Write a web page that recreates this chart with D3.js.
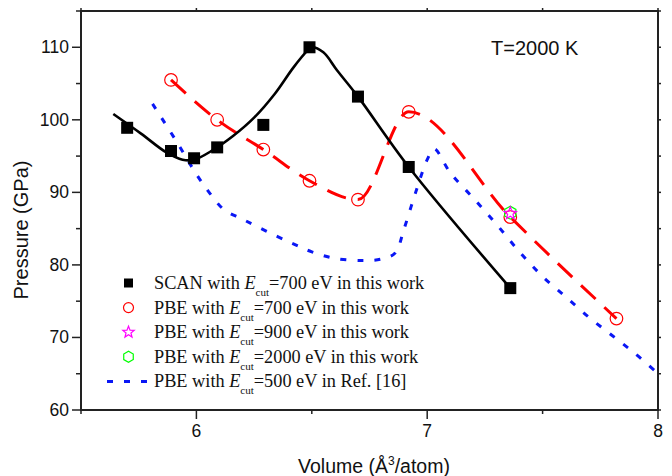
<!DOCTYPE html>
<html>
<head>
<meta charset="utf-8">
<script src="https://cdn.jsdelivr.net/npm/d3@7"></script>
<style>
  body { margin: 0; background: #fff; }
  svg { display: block; }
</style>
</head>
<body>
<div id="chart"></div>
<script>
// SCAN, E_cut = 700 eV (squares)
const scanVol = [5.70, 5.89, 5.99, 6.09, 6.29, 6.49, 6.70, 6.92, 7.36];
const scanP   = [98.9, 95.7, 94.7, 96.2, 99.3, 110.0, 103.2, 93.5, 76.8];
// fitted curve drawn through the SCAN points
const scanFitVol = [5.64, 5.76, 5.87, 5.94, 5.99, 6.07, 6.16, 6.25, 6.34, 6.42, 6.48, 6.50, 6.55, 6.61, 6.70, 6.92, 7.36];
const scanFitP   = [100.8, 98.1, 95.5, 94.5, 94.5, 95.8, 97.8, 100.3, 103.6, 107.2, 109.5, 110.0, 109.3, 106.8, 103.2, 93.5, 76.8];

// PBE, E_cut = 700 eV (circles)
const pbeVol = [5.89, 6.09, 6.29, 6.49, 6.70, 6.92, 7.36, 7.82];
const pbeP   = [105.5, 100.0, 95.9, 91.6, 89.0, 101.1, 86.6, 72.6];

// PBE, 900 eV and 2000 eV (single points)
const pbe900 = [7.36, 87.1];
const pbe2000 = [7.36, 87.2];

// PBE, E_cut = 500 eV, Ref. [16]
const refVol = [5.81, 5.92, 6.00, 6.06, 6.12, 6.20, 6.30, 6.42, 6.50, 6.60, 6.72, 6.80, 6.86, 6.90, 6.95, 7.00, 7.03, 7.10, 7.20, 7.30, 7.40, 7.50, 7.60, 7.70, 7.80, 7.90, 8.00];
const refP   = [102.2, 96.7, 92.5, 89.8, 87.6, 86.3, 84.7, 82.9, 81.8, 80.9, 80.6, 80.8, 81.6, 85.0, 90.0, 94.5, 96.0, 92.7, 89.2, 85.6, 81.8, 78.4, 75.6, 72.8, 70.3, 67.8, 65.0];

const xTicks = [6, 7, 8];
const yTicks = [60, 70, 80, 90, 100, 110];

const legendItems = [
  { pre: "SCAN with ", post: "=700 eV in this work", kind: "square" },
  { pre: "PBE with ", post: "=700 eV in this work", kind: "circle" },
  { pre: "PBE with ", post: "=900 eV in this work", kind: "star" },
  { pre: "PBE with ", post: "=2000 eV in this work", kind: "hex" },
  { pre: "PBE with ", post: "=500 eV in Ref. [16]", kind: "dash" }
];

const width = 672, height = 476;
const margin = { top: 11, right: 14, bottom: 66, left: 81 };

const svg = d3.select("#chart").append("svg")
  .attr("width", width)
  .attr("height", height);

const x = d3.scaleLinear().domain([5.5, 8]).range([margin.left, width - margin.right]);
const y = d3.scaleLinear().domain([60, 115]).range([height - margin.bottom, margin.top]);

const x0 = margin.left, x1 = width - margin.right;
const y0 = height - margin.bottom, y1 = margin.top;

// clip so the Ref. curve stops at the frame
svg.append("clipPath").attr("id", "plotclip")
  .append("rect").attr("x", x0).attr("y", y1).attr("width", x1 - x0).attr("height", y0 - y1);

const plot = svg.append("g").attr("clip-path", "url(#plotclip)");

const line = d3.line().x(d => x(d[0])).y(d => y(d[1]));

// Ref. [16] blue dotted
plot.append("path")
  .datum(d3.zip(refVol, refP))
  .attr("fill", "none")
  .attr("stroke", "#0a17f5")
  .attr("stroke-width", 3)
  .attr("stroke-dasharray", "6,11")
  .attr("d", line.curve(d3.curveCatmullRom.alpha(0.5)));

// PBE red dashed
plot.append("path")
  .datum(d3.zip(pbeVol, pbeP))
  .attr("fill", "none")
  .attr("stroke", "#f00")
  .attr("stroke-width", 3)
  .attr("stroke-dasharray", "20,12")
  .attr("d", line.curve(d3.curveMonotoneX));

// SCAN black curve
plot.append("path")
  .datum(d3.zip(scanFitVol, scanFitP))
  .attr("fill", "none")
  .attr("stroke", "#000")
  .attr("stroke-width", 2.6)
  .attr("d", line.curve(d3.curveCatmullRom.alpha(0.5)));

// markers
svg.append("g").selectAll("rect")
  .data(d3.zip(scanVol, scanP))
  .join("rect")
  .attr("x", d => x(d[0]) - 6)
  .attr("y", d => y(d[1]) - 6)
  .attr("width", 12)
  .attr("height", 12)
  .attr("fill", "#000");

svg.append("g").selectAll("circle")
  .data(d3.zip(pbeVol, pbeP))
  .join("circle")
  .attr("cx", d => x(d[0]))
  .attr("cy", d => y(d[1]))
  .attr("r", 6.3)
  .attr("fill", "none")
  .attr("stroke", "#f00")
  .attr("stroke-width", 1.2);

const hexPath = r => d3.range(6).map(i => {
  const a = Math.PI / 6 + i * Math.PI / 3;
  return [r * Math.cos(a), r * Math.sin(a)];
});
const starPath = (ro, ri) => d3.range(10).map(i => {
  const a = -Math.PI / 2 + i * Math.PI / 5;
  const r = i % 2 ? ri : ro;
  return [r * Math.cos(a), r * Math.sin(a)];
});
const poly = pts => "M" + pts.map(p => p.join(",")).join("L") + "Z";

svg.append("path")
  .attr("transform", `translate(${x(pbe2000[0])},${y(pbe2000[1])})`)
  .attr("d", poly(hexPath(6.5)))
  .attr("fill", "none").attr("stroke", "#0f0").attr("stroke-width", 1.2);
svg.append("path")
  .attr("transform", `translate(${x(pbe900[0])},${y(pbe900[1])})`)
  .attr("d", poly(starPath(6.5, 2.8)))
  .attr("fill", "none").attr("stroke", "#f0f").attr("stroke-width", 1.2);

// frame and axes
const axisColor = "#222";
svg.append("rect")
  .attr("x", x0).attr("y", y1)
  .attr("width", x1 - x0).attr("height", y0 - y1)
  .attr("fill", "none").attr("stroke", axisColor).attr("stroke-width", 2);

const xMinor = d3.range(5.5, 8.01, 0.5);
const yMinor = d3.range(60, 115.01, 5);

const ticks = svg.append("g").attr("stroke", axisColor).attr("stroke-width", 1.5);
// bottom
ticks.selectAll(".xb").data(xMinor).join("line")
  .attr("x1", d => x(d)).attr("x2", d => x(d))
  .attr("y1", y0).attr("y2", d => y0 + (Number.isInteger(d) ? 9 : 4));
// top
ticks.selectAll(".xt").data(xMinor).join("line")
  .attr("x1", d => x(d)).attr("x2", d => x(d))
  .attr("y1", y1).attr("y2", y1 - 3);
// left
ticks.selectAll(".yl").data(yMinor).join("line")
  .attr("y1", d => y(d)).attr("y2", d => y(d))
  .attr("x1", x0).attr("x2", d => x0 - (d % 10 === 0 ? 9 : 5));
// right
ticks.selectAll(".yr").data(yMinor).join("line")
  .attr("y1", d => y(d)).attr("y2", d => y(d))
  .attr("x1", x1).attr("x2", x1 + 3);

const sans = "'Liberation Sans', Arial, sans-serif";
const serif = "'Liberation Serif', 'Times New Roman', serif";

svg.append("g").selectAll("text")
  .data(xTicks)
  .join("text")
  .attr("x", d => x(d))
  .attr("y", y0 + 27)
  .attr("text-anchor", "middle")
  .attr("font-family", sans)
  .attr("font-size", 17.5)
  .attr("fill", "#111")
  .text(d => d);

svg.append("g").selectAll("text")
  .data(yTicks)
  .join("text")
  .attr("x", x0 - 12)
  .attr("y", d => y(d) + 6)
  .attr("text-anchor", "end")
  .attr("font-family", sans)
  .attr("font-size", 17.5)
  .attr("fill", "#111")
  .text(d => d);

// axis titles
const xt = svg.append("text")
  .attr("x", 374)
  .attr("y", 473)
  .attr("text-anchor", "middle")
  .attr("font-family", sans)
  .attr("font-size", 19.5)
  .attr("fill", "#111");
xt.append("tspan").text("Volume (Å");
xt.append("tspan").attr("font-size", 12).attr("dy", -8).text("3");
xt.append("tspan").attr("dy", 8).text("/atom)");

svg.append("text")
  .attr("transform", `translate(28,230) rotate(-90)`)
  .attr("text-anchor", "middle")
  .attr("font-family", sans)
  .attr("font-size", 20)
  .attr("fill", "#111")
  .text("Pressure (GPa)");

svg.append("text")
  .attr("x", 491)
  .attr("y", 55)
  .attr("font-family", sans)
  .attr("font-size", 20)
  .attr("fill", "#111")
  .text("T=2000 K");

// legend
const legend = svg.append("g");
const rowY = i => 283 + i * 24.6;
legendItems.forEach((item, i) => {
  const cy = rowY(i);
  const g = legend.append("g");
  if (item.kind === "square") {
    g.append("rect").attr("x", 124).attr("y", cy - 4.5).attr("width", 9).attr("height", 9).attr("fill", "#000");
  } else if (item.kind === "circle") {
    g.append("circle").attr("cx", 128.5).attr("cy", cy).attr("r", 5).attr("fill", "none").attr("stroke", "#f00").attr("stroke-width", 1.2);
  } else if (item.kind === "star") {
    g.append("path").attr("transform", `translate(128.5,${cy})`).attr("d", poly(starPath(6, 2.6)))
      .attr("fill", "none").attr("stroke", "#f0f").attr("stroke-width", 1.2);
  } else if (item.kind === "hex") {
    g.append("path").attr("transform", `translate(128.5,${cy})`).attr("d", poly(hexPath(5.5)))
      .attr("fill", "none").attr("stroke", "#0f0").attr("stroke-width", 1.2);
  } else {
    g.append("line").attr("x1", 107).attr("x2", 150).attr("y1", cy).attr("y2", cy)
      .attr("stroke", "#0a17f5").attr("stroke-width", 3).attr("stroke-dasharray", "6,11");
  }
  const t = g.append("text")
    .attr("x", 154)
    .attr("y", cy + 6)
    .attr("font-family", serif)
    .attr("font-size", 18.3)
    .attr("fill", "#111");
  t.append("tspan").text(item.pre);
  t.append("tspan").attr("font-style", "italic").text("E");
  t.append("tspan").attr("font-size", 11).attr("dy", 7).text("cut");
  t.append("tspan").attr("dy", -7).text(item.post);
});
</script>
</body>
</html>
